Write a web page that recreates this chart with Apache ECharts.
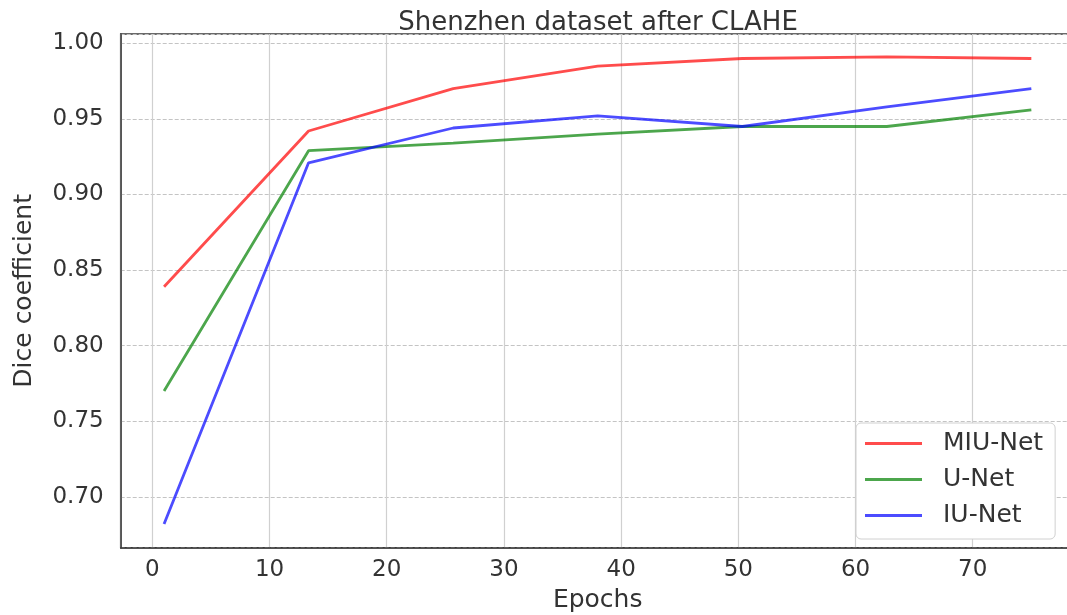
<!DOCTYPE html>
<html>
<head>
<meta charset="utf-8">
<script src="https://cdn.jsdelivr.net/npm/echarts@6/dist/echarts.min.js"></script>
<style>
html,body{margin:0;padding:0;background:#fff;}
#chart{width:1067px;height:615px;}
</style>
</head>
<body>
<div id="chart"></div>
<script>
const epochs = [1, 13.33, 25.67, 38, 50.33, 62.67, 75];
const miuNet = [0.839, 0.942, 0.970, 0.985, 0.990, 0.991, 0.990];
const uNet   = [0.770, 0.929, 0.934, 0.940, 0.945, 0.945, 0.956];
const iuNet  = [0.682, 0.921, 0.944, 0.952, 0.945, 0.958, 0.970];
const seriesNames = ['MIU-Net', 'U-Net', 'IU-Net'];
const titleText = 'Shenzhen dataset after CLAHE';
const xName = 'Epochs';
const yName = 'Dice coefficient';

const FONT = 'DejaVu Sans';
const TXT = '#333333';
const colors = ['rgba(255,0,0,0.7)', 'rgba(0,128,0,0.7)', 'rgba(0,0,255,0.7)'];
const values = [miuNet, uNet, iuNet];

const chart = echarts.init(document.getElementById('chart'), null, {renderer: 'canvas'});
chart.setOption({
  animation: false,
  backgroundColor: '#ffffff',
  title: {
    text: titleText,
    left: 598,
    textAlign: 'center',
    top: 10,
    padding: 0,
    textStyle: {fontFamily: FONT, fontSize: 26, fontWeight: 'normal', color: TXT}
  },
  grid: {
    left: 120.7, top: 34, bottom: 67.3, right: -7.7,
    show: true, borderColor: '#3a3a3a', borderWidth: 1.5,
    containLabel: false, outerBoundsMode: 'none'
  },
  legend: {
    orient: 'vertical',
    left: 856, top: 423,
    padding: [8, 12, 11, 9],
    itemGap: 11,
    itemWidth: 57, itemHeight: 3,
    icon: 'rect',
    backgroundColor: '#ffffff',
    borderColor: '#d0d0d0', borderWidth: 1, borderRadius: 5,
    textStyle: {fontFamily: FONT, fontSize: 25, color: TXT, lineHeight: 24, padding: [0, 0, 0, 16]},
    data: seriesNames
  },
  xAxis: {
    type: 'value',
    min: -2.7, max: 78.7,
    splitNumber: 8,
    name: xName, nameLocation: 'middle', nameGap: 40,
    nameTextStyle: {fontFamily: FONT, fontSize: 25, color: TXT},
    axisLine: {show: true, onZero: false, lineStyle: {color: '#3a3a3a', width: 1.5}},
    axisTick: {show: false},
    axisLabel: {
      fontFamily: FONT, fontSize: 23, color: TXT, margin: 11,
      showMinLabel: false, showMaxLabel: false,
      formatter: v => (Math.abs(v - Math.round(v)) < 1e-6 && Math.round(v) % 10 === 0) ? String(Math.round(v)) : ''
    },
    splitLine: {show: true, lineStyle: {color: '#d0d0d0', width: 1.2, type: 'solid'}}
  },
  yAxis: {
    type: 'value',
    min: 0.6663, max: 1.0062,
    splitNumber: 7,
    name: yName, nameLocation: 'middle', nameGap: 84, nameRotate: 90,
    nameTextStyle: {fontFamily: FONT, fontSize: 25, color: TXT},
    axisLine: {show: true, onZero: false, lineStyle: {color: '#3a3a3a', width: 1.5}},
    axisTick: {show: false},
    axisLabel: {
      fontFamily: FONT, fontSize: 23, color: TXT, margin: 17,
      showMinLabel: false, showMaxLabel: false,
      formatter: v => {
        const k = Math.round(v * 20);
        return Math.abs(v * 20 - k) < 1e-6 ? v.toFixed(2) : '';
      }
    },
    splitLine: {show: true, lineStyle: {color: '#c4c4c4', width: 1, type: [4, 2]}}
  },
  series: seriesNames.map((name, i) => ({
    name: name,
    type: 'line',
    data: epochs.map((x, j) => [x, values[i][j]]),
    showSymbol: false,
    symbol: 'none',
    lineStyle: {color: colors[i], width: 2.8},
    itemStyle: {color: colors[i]},
    z: 3
  }))
});
</script>
</body>
</html>
